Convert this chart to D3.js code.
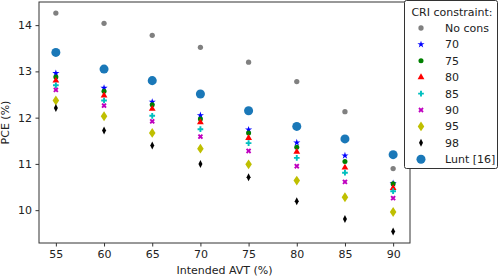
<!DOCTYPE html>
<html>
<head>
<meta charset="utf-8">
<script src="https://cdn.jsdelivr.net/npm/d3@7"></script>
<style>
  body { margin: 0; background: #fff; }
  text { font-family: "DejaVu Sans", sans-serif; }
</style>
</head>
<body>
<div id="svg-holder"></div>
<script>
// values
let avt = [55, 60, 65, 70, 75, 80, 85, 90]
let noCons = [14.26, 14.04, 13.78, 13.52, 13.20, 12.78, 12.13, 10.90]
let cri70 = [12.96, 12.64, 12.34, 12.05, 11.74, 11.46, 11.18, 10.58]
let cri75 = [12.88, 12.57, 12.28, 11.97, 11.67, 11.36, 11.05, 10.57]
let cri80 = [12.80, 12.48, 12.19, 11.90, 11.56, 11.26, 10.92, 10.48]
let cri85 = [12.70, 12.37, 12.04, 11.75, 11.45, 11.13, 10.81, 10.41]
let cri90 = [12.60, 12.26, 11.92, 11.59, 11.28, 10.95, 10.61, 10.26]
let cri95 = [12.37, 12.03, 11.67, 11.33, 10.99, 10.64, 10.28, 9.96]
let cri98 = [12.21, 11.72, 11.40, 11.00, 10.71, 10.19, 9.81, 9.54]
let lunt = [13.41, 13.05, 12.80, 12.51, 12.15, 11.81, 11.54, 11.20]

let xTicks = [55, 60, 65, 70, 75, 80, 85, 90]
let yTicks = [10, 11, 12, 13, 14]

let series = [
    {name: 'No cons', vals: noCons, color: '#808080', shape: 'dot'},
    {name: '70', vals: cri70, color: '#0000ff', shape: 'star'},
    {name: '75', vals: cri75, color: '#008000', shape: 'circle'},
    {name: '80', vals: cri80, color: '#ff0000', shape: 'triangle'},
    {name: '85', vals: cri85, color: '#00bfbf', shape: 'plus'},
    {name: '90', vals: cri90, color: '#bf00bf', shape: 'x'},
    {name: '95', vals: cri95, color: '#bfbf00', shape: 'diamond'},
    {name: '98', vals: cri98, color: '#000000', shape: 'thin'},
    {name: 'Lunt [16]', vals: lunt, color: '#1a78b8', shape: 'big'}
]

var margin = {top: 2, right: 88, bottom: 35, left: 39},
width = 498 - margin.left - margin.right,
height = 278 - margin.top - margin.bottom;

let svg = d3.select("#svg-holder")
    .append('svg')
    .attr("width", 498)
    .attr("height", 278)
    .append("g")
    .attr("transform", "translate(" + margin.left + "," + margin.top + ")");

let x = d3.scaleLinear().domain([53.25, 91.75]).range([0, width]);
let y = d3.scaleLinear().domain([9.29, 14.5]).range([height, 0]);

let xAxis = svg.append("g")
    .attr("transform", "translate(0," + height + ")")
    .call(d3.axisBottom(x).tickValues(xTicks).tickFormat(d3.format("d")).tickSize(3.5).tickPadding(3.5));
let yAxis = svg.append("g")
    .call(d3.axisLeft(y).tickValues(yTicks).tickFormat(d3.format("d")).tickSize(3.5).tickPadding(3.5));
[xAxis, yAxis].forEach(a => {
    a.select(".domain").remove()
    a.selectAll("text").style("font-size", "11px").attr("fill", "#222")
    a.selectAll("line").attr("stroke", "#333")
})

svg.append("rect")
    .attr("width", width).attr("height", height)
    .attr("fill", "none").attr("stroke", "#333").attr("stroke-width", 1)

svg.append("text")
    .attr("x", width / 2).attr("y", height + 31)
    .attr("text-anchor", "middle").style("font-size", "11px").attr("fill", "#222")
    .text("Intended AVT (%)")
svg.append("text")
    .attr("transform", "translate(" + (-30) + "," + (height / 2) + ") rotate(-90)")
    .attr("text-anchor", "middle").style("font-size", "11px").attr("fill", "#222")
    .text("PCE (%)")

let sym = {
    dot: d3.symbol(d3.symbolCircle, 22),
    star: d3.symbol(d3.symbolStar, 16),
    circle: d3.symbol(d3.symbolCircle, 20),
    triangle: d3.symbol(d3.symbolTriangle, 20),
    plus: d3.symbol(d3.symbolCross, 18),
    x: d3.symbol(d3.symbolCross, 18),
    diamond: d3.symbol(d3.symbolDiamond, 28),
    big: d3.symbol(d3.symbolCircle, 64)
}

function drawMark(g, s) {
    if (s.shape === 'thin') {
        g.append("path").attr("d", "M0,-4L2,0L0,4L-2,0Z").attr("fill", s.color)
    } else {
        let p = g.append("path").attr("d", sym[s.shape]()).attr("fill", s.color)
        if (s.shape === 'x') p.attr("transform", "rotate(45)")
        if (s.shape === 'diamond') p.attr("transform", "scale(1.15,1)")
    }
}

series.forEach(s => {
    svg.append('g')
        .selectAll("g")
        .data(s.vals)
        .join("g")
        .attr("transform", (d, i) => "translate(" + x(avt[i]) + "," + y(d) + ")")
        .each(function () { drawMark(d3.select(this), s) })
})

// legend
let leg = svg.append("g").attr("transform", "translate(" + (404 - margin.left) + "," + (0 - margin.top) + ")")
leg.append("rect")
    .attr("x", 0.5).attr("y", 0.5).attr("width", 93).attr("height", 168)
    .attr("rx", 2).attr("fill", "#fff").attr("stroke", "#333").attr("stroke-width", 1)
leg.append("text")
    .attr("x", 48).attr("y", 16)
    .attr("text-anchor", "middle").style("font-size", "11px").attr("fill", "#222")
    .text("CRI constraint:")
series.forEach((s, i) => {
    let row = leg.append("g").attr("transform", "translate(0," + (28 + i * 16.4) + ")")
    drawMark(row.append("g").attr("transform", "translate(17,0)"), s)
    row.append("text")
        .attr("x", 41).attr("y", 4)
        .style("font-size", "11px").attr("fill", "#222")
        .text(s.name)
})
</script>
</body>
</html>
